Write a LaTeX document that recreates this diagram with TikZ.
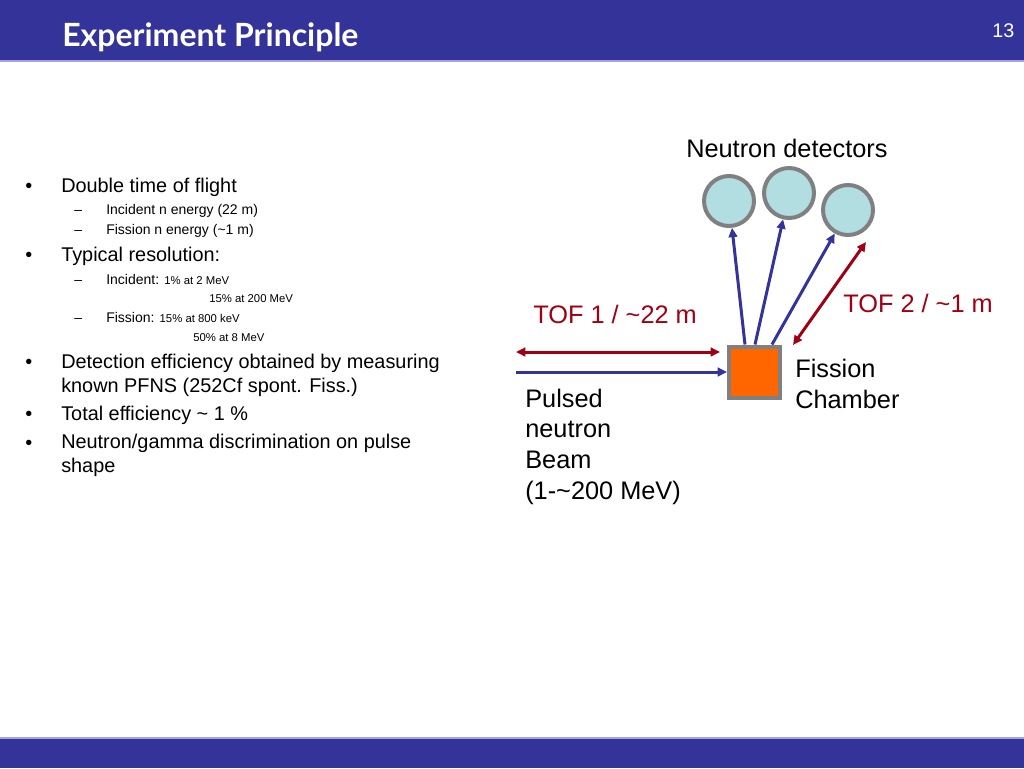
\documentclass[tikz,border=0pt]{standalone}
\usepackage{fontspec}
\setmainfont{Liberation Sans}
\newfontfamily\titlefont{Lato}
\definecolor{slideblue}{HTML}{333399}
\definecolor{rimline}{HTML}{A4A4E4}
\definecolor{tofred}{HTML}{A00014}
\definecolor{detblue}{HTML}{B2DDE1}
\definecolor{fcorange}{HTML}{FF6600}
\definecolor{rimgrey}{HTML}{808080}
\usetikzlibrary{arrows.meta, calc, positioning}
\tikzset{
	beam/.style={slideblue, line width=2.25pt, -{Triangle[length=7pt,width=6.5pt]}},
	tof/.style={tofred, line width=2.25pt, {Triangle[length=7pt,width=6.5pt]}-{Triangle[length=7pt,width=6.5pt]}},
	detector/.style={circle, draw=rimgrey, fill=detblue, line width=3pt, minimum size=37.5pt, inner sep=0pt},
	chamber/.style={rectangle, draw=rimgrey, fill=fcorange, line width=3pt, minimum size=38.25pt, inner sep=0pt},
	lbl/.style={font=\fontsize{19}{23}\selectfont, align=left, anchor=base west, inner sep=0pt},
	big/.style={font=\fontsize{14.9}{18}\selectfont, align=left, anchor=base west, inner sep=0pt},
	sub/.style={font=\fontsize{10.5}{13}\selectfont, anchor=base west, inner sep=0pt},
}
\newcommand{\smalltxt}[1]{{\fontsize{8.5}{10}\selectfont #1}}
\begin{document}
\begin{tikzpicture}[x=0.75pt, y=-0.75pt]
	\useasboundingbox (0,0) rectangle (1024,768);
	
	% title and footer bars
	\fill[slideblue] (0,0) rectangle (1024,60);
	\fill[rimline] (0,60) rectangle (1024,62);
	\fill[rimline] (0,737) rectangle (1024,739);
	\fill[slideblue] (0,739) rectangle (1024,768);
	\node[anchor=base west, inner sep=0pt, white, font=\titlefont\bfseries\fontsize{24}{28}\selectfont] (title) at (62,46) {Experiment Principle};
	\node[anchor=base west, inner sep=0pt, white, font=\fontsize{14.8}{17}\selectfont] (pagenum) at (992,37) {13};
	
	% bullets (multi-line nodes sit on their last baseline)
	\foreach \y in {192,261,368,420,449}
		\node[big] at (25,\y) {\textbullet};
	\foreach \y in {214,234,284,322}
		\node[sub] at (74,\y) {--};
	\node[big] (tof) at (61,192) {Double time of flight};
	\node[sub] (incn) at (106,214) {Incident n energy (22 m)};
	\node[sub] (fisn) at (106,234) {Fission n energy (\textasciitilde1 m)};
	\node[big] (res) at (61,261) {Typical resolution:};
	\node[sub] (resinc) at (106,284) {Incident: \smalltxt{1\% at 2 MeV}};
	\node[sub] (resinc2) at (209,302) {\smalltxt{15\% at 200 MeV}};
	\node[sub] (resfis) at (106,322) {Fission: \smalltxt{15\% at 800 keV}};
	\node[sub] (resfis2) at (193,341) {\smalltxt{50\% at 8 MeV}};
	\node[big] (eff) at (61,392) {Detection efficiency obtained by measuring\\known PFNS (252Cf spont. Fiss.)};
	\node[big] (toteff) at (61,420) {Total efficiency \textasciitilde\ 1 \%};
	\node[big] (psd) at (61,472) {Neutron/gamma discrimination on pulse\\shape};
	
	% setup
	\node[detector] (det1) at (729,201) {};
	\node[detector] (det2) at (789,193) {};
	\node[detector] (det3) at (848,210) {};
	\node[chamber] (fc) at (754.5,372) {};
	\node[lbl] (detlbl) at (686,157) {Neutron detectors};
	\node[lbl] (fclbl) at (795,408) {Fission\\Chamber};
	\node[lbl] (beamlbl) at (525,499) {Pulsed\\neutron\\Beam\\(1-\textasciitilde200 MeV)};
	\node[lbl, tofred] (tof1lbl) at (533,323) {TOF 1 / \textasciitilde22 m};
	\node[lbl, tofred] (tof2lbl) at (843,312) {TOF 2 / \textasciitilde1 m};
	
	\coordinate (beamin) at (516,372);
	\coordinate (tof1a) at (516,352);
	\coordinate (tof1b) at (720,352);
	\coordinate (tof2a) at (793,345);
	\coordinate (tof2b) at (866,242);
	
	\draw[beam] (beamin) -- (fc);
	\draw[beam] ($(fc.north)+(-9.5,0)$) -- (det1);
	\draw[beam] ($(fc.north)+(0.5,0)$) -- (det2);
	\draw[beam] ($(fc.north)+(17.5,0)$) -- (det3);
	\draw[tof] (tof1a) -- (tof1b);
	\draw[tof] (tof2a) -- (tof2b);
\end{tikzpicture}
\end{document}
